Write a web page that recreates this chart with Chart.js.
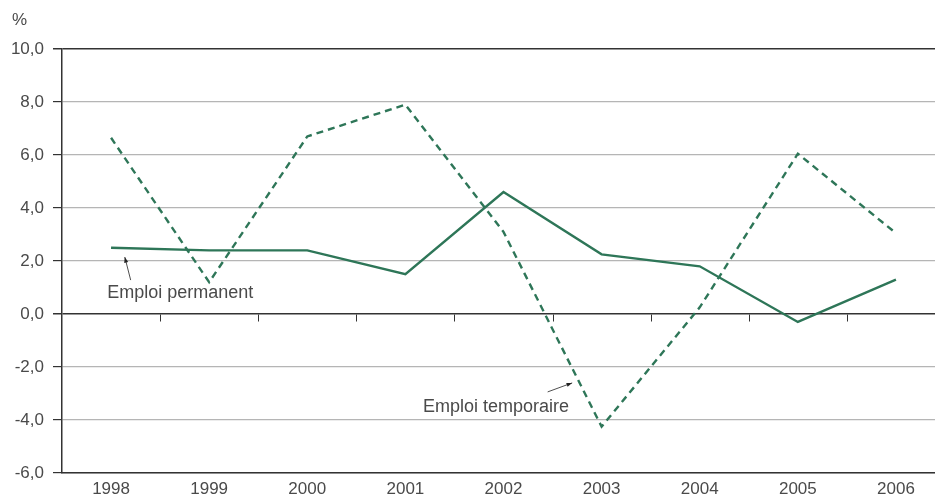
<!DOCTYPE html>
<html lang="fr">
<head>
  <meta charset="utf-8" />
  <title>Emploi permanent / temporaire</title>
  <script src="https://cdn.jsdelivr.net/npm/chart.js"></script>
  <style>
    html, body { margin: 0; padding: 0; background: #fff; overflow: hidden; }
    #wrap { width: 945px; height: 497px; position: relative; }
  </style>
</head>
<body>
  <div id="wrap"><canvas id="myChart"></canvas></div>

  <script>
    const years = ['1998', '1999', '2000', '2001', '2002', '2003', '2004', '2005', '2006'];
    const permanent = [2.5, 2.4, 2.4, 1.5, 4.6, 2.25, 1.8, -0.3, 1.3];
    const temporaire = [6.65, 1.2, 6.7, 7.9, 3.1, -4.25, 0.25, 6.05, 3.05];
    const yTicks = [-6, -4, -2, 0, 2, 4, 6, 8, 10];

    const green = '#2e7658';
    const textCol = '#4a4a4a';
    const fontFam = '"Liberation Sans", Arial, sans-serif';

    // notes, axis unit and short ticks on the zero line
    const extras = {
      id: 'extras',
      afterDraw(chart) {
        const ctx = chart.ctx;
        const x = chart.scales.x, y = chart.scales.y;
        ctx.save();

        // ticks on zero line
        ctx.strokeStyle = '#333';
        ctx.lineWidth = 1;
        const y0 = Math.round(y.getPixelForValue(0)) + 0.5;
        for (let i = 1; i < years.length; i++) {
          const px = Math.round(x.getPixelForValue(i - 0.5)) + 0.5;
          ctx.beginPath();
          ctx.moveTo(px, y0);
          ctx.lineTo(px, y0 + 7);
          ctx.stroke();
        }

        ctx.fillStyle = textCol;
        ctx.font = '17px ' + fontFam;
        ctx.textBaseline = 'middle';
        ctx.textAlign = 'left';
        ctx.fillText('%', 12, 20);

        const arrow = (x1, y1, x2, y2) => {
          ctx.strokeStyle = '#222';
          ctx.fillStyle = '#222';
          ctx.lineWidth = 0.8;
          ctx.beginPath();
          ctx.moveTo(x1, y1);
          ctx.lineTo(x2, y2);
          ctx.stroke();
          const a = Math.atan2(y2 - y1, x2 - x1);
          ctx.beginPath();
          ctx.moveTo(x2, y2);
          ctx.lineTo(x2 - 6 * Math.cos(a - 0.35), y2 - 6 * Math.sin(a - 0.35));
          ctx.lineTo(x2 - 6 * Math.cos(a + 0.35), y2 - 6 * Math.sin(a + 0.35));
          ctx.closePath();
          ctx.fill();
        };

        ctx.font = '18px ' + fontFam;

        // Emploi permanent
        ctx.fillStyle = textCol;
        ctx.fillText('Emploi permanent', x.getPixelForValue(-0.04), y.getPixelForValue(0.78));
        arrow(x.getPixelForValue(0.2), y.getPixelForValue(1.28), x.getPixelForValue(0.14), y.getPixelForValue(2.15));

        // Emploi temporaire
        ctx.fillStyle = textCol;
        ctx.fillText('Emploi temporaire', x.getPixelForValue(3.18), y.getPixelForValue(-3.5));
        arrow(x.getPixelForValue(4.45), y.getPixelForValue(-2.94), x.getPixelForValue(4.70), y.getPixelForValue(-2.6));

        ctx.restore();
      }
    };

    const data = {
      labels: years,
      datasets: [{
        label: 'Emploi permanent',
        data: permanent,
        borderColor: green,
        borderWidth: 2.4,
        pointRadius: 0,
        tension: 0
      }, {
        label: 'Emploi temporaire',
        data: temporaire,
        borderColor: green,
        borderWidth: 2.4,
        borderDash: [7, 5],
        pointRadius: 0,
        tension: 0
      }]
    };

    const config = {
      type: 'line',
      data: data,
      options: {
        responsive: true,
        maintainAspectRatio: false,
        animation: false,
        layout: { padding: { top: 49, right: 0, left: 0, bottom: 0 } },
        plugins: {
          legend: { display: false },
          tooltip: { enabled: false }
        },
        scales: {
          x: {
            offset: true,
            grid: { display: false, drawTicks: false },
            border: { color: '#333', width: 1.5 },
            ticks: { color: textCol, font: { size: 17, family: fontFam }, padding: 6, maxRotation: 0, autoSkip: false },
            afterFit(s) { s.height = 24; }
          },
          y: {
            min: -6,
            max: 10,
            afterBuildTicks(s) { s.ticks = yTicks.map(v => ({ value: v })); },
            grid: {
              color: c => (c.tick.value === 0 || c.tick.value === 10) ? '#333' : '#b5b5b5',
              lineWidth: c => (c.tick.value === 0 || c.tick.value === 10) ? 1.5 : 1.2,
              tickColor: '#333',
              tickLength: 9
            },
            border: { color: '#333', width: 1.5 },
            ticks: {
              color: textCol,
              font: { size: 17, family: fontFam },
              padding: 9,
              callback: v => v.toFixed(1).replace('.', ',')
            },
            afterFit(s) { s.width = 62; }
          }
        }
      },
      plugins: [extras]
    };

    var myChart = new Chart(document.getElementById('myChart'), config);
  </script>
</body>
</html>
